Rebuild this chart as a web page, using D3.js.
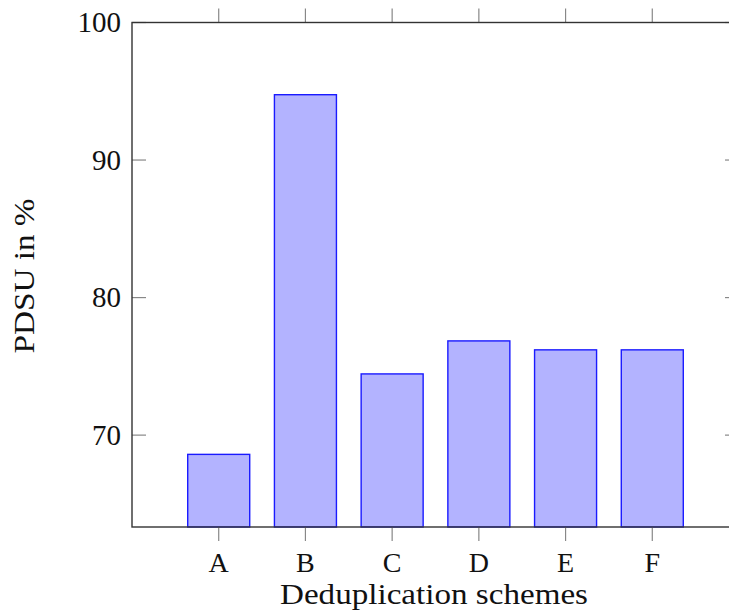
<html>
<head>
  <title>PDSU</title>
  <script src='https://d3js.org/d3.v7.min.js'></script>
  <style type="text/css">
  body {
    margin: 0;
    background: white;
  }
  </style>
</head>
<body>
<script>

var schemes = ["A", "B", "C", "D", "E", "F"],
    pdsu = [68.6, 94.75, 74.45, 76.85, 76.2, 76.2],
    yTicks = [70, 80, 90, 100];

var width = 729,
    height = 611,
    plotLeft = 132,
    plotRight = 739,
    plotTop = 22.5,
    plotBottom = 527,
    tickLen = 14,
    serif = "'Liberation Serif', 'Times New Roman', Times, serif";

var step = (plotRight - plotLeft) / 7;

var x = d3.scaleBand()
  .domain(schemes)
  .range([plotLeft + step / 2, plotRight - step / 2])
  .paddingInner(0.285)
  .paddingOuter(0.1425);

var y = d3.scaleLinear()
  .domain([63.32, 100])
  .range([plotBottom, plotTop]);

var svg = d3.select('body')
  .append('svg')
  .attr('width', width)
  .attr('height', height)
  .style('font-family', serif);

// bars
svg.selectAll('rect.bar')
  .data(pdsu)
  .enter()
  .append('rect')
  .attr('class', 'bar')
  .attr('x', function(d, i) { return x(schemes[i]); })
  .attr('y', function(d) { return y(d); })
  .attr('width', x.bandwidth())
  .attr('height', function(d) { return plotBottom - y(d); })
  .attr('fill', '#b3b3ff')
  .attr('stroke', '#1a1aff')
  .attr('stroke-width', 1.4);

// x ticks, top and bottom, pointing out
var xt = svg.append('g');
schemes.forEach(function(s) {
  var cx = x(s) + x.bandwidth() / 2;
  xt.append('line')
    .attr('x1', cx).attr('x2', cx)
    .attr('y1', plotBottom).attr('y2', plotBottom + tickLen)
    .attr('stroke', '#888').attr('stroke-width', 1.2);
  xt.append('line')
    .attr('x1', cx).attr('x2', cx)
    .attr('y1', plotTop - tickLen).attr('y2', plotTop)
    .attr('stroke', '#888').attr('stroke-width', 1.2);
  xt.append('text')
    .attr('x', cx)
    .attr('y', 572)
    .attr('text-anchor', 'middle')
    .attr('fill', '#111')
    .style('font-size', '28px')
    .text(s);
});

// y ticks, left and right, pointing in
var yt = svg.append('g');
yTicks.forEach(function(t) {
  yt.append('line')
    .attr('x1', plotLeft).attr('x2', plotLeft + tickLen)
    .attr('y1', y(t)).attr('y2', y(t))
    .attr('stroke', '#888').attr('stroke-width', 1.2);
  yt.append('line')
    .attr('x1', plotRight - tickLen).attr('x2', plotRight)
    .attr('y1', y(t)).attr('y2', y(t))
    .attr('stroke', '#888').attr('stroke-width', 1.2);
  yt.append('text')
    .attr('x', 121)
    .attr('y', y(t))
    .attr('dy', '0.34em')
    .attr('text-anchor', 'end')
    .attr('fill', '#111')
    .style('font-size', '29px')
    .text(t);
});

// frame
svg.append('rect')
  .attr('x', plotLeft)
  .attr('y', plotTop)
  .attr('width', plotRight - plotLeft)
  .attr('height', plotBottom - plotTop)
  .attr('fill', 'none')
  .attr('stroke', '#333')
  .attr('stroke-width', 1.4);

// axis titles
svg.append('text')
  .attr('x', 434)
  .attr('y', 604)
  .attr('text-anchor', 'middle')
  .attr('textLength', 308)
  .attr('lengthAdjust', 'spacingAndGlyphs')
  .attr('fill', '#111')
  .style('font-size', '29px')
  .text('Deduplication schemes');

svg.append('text')
  .attr('transform', 'translate(34,276)rotate(-90)')
  .attr('text-anchor', 'middle')
  .attr('textLength', 155)
  .attr('lengthAdjust', 'spacingAndGlyphs')
  .attr('fill', '#111')
  .style('font-size', '29px')
  .text('PDSU in %');

</script>
</body>
</html>
